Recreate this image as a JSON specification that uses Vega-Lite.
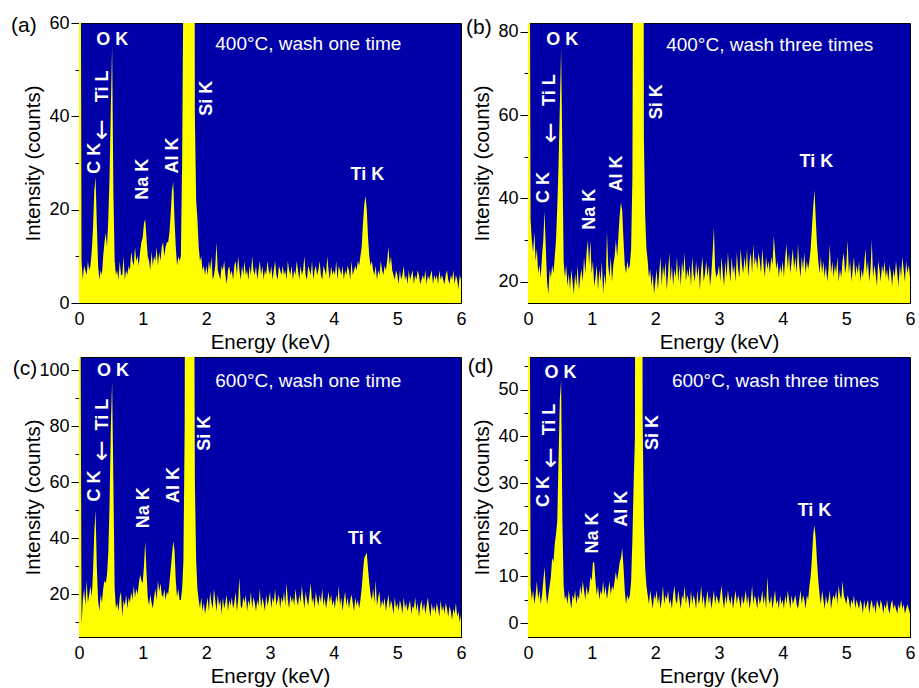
{
"$schema": "https://vega.github.io/schema/vega-lite/v6.json",
"padding": {"left": 10, "top": 13, "right": 5, "bottom": 2},
"config": {
  "font": "Liberation Sans",
  "view": {"stroke": "#000", "strokeWidth": 1, "fill": "#0000a8"},
  "axis": {"grid": false, "domainColor": "#000", "tickColor": "#000", "labelColor": "#000", "titleColor": "#000", "labelFontSize": 18, "titleFontSize": 20.5, "titleFontWeight": "normal", "tickWidth": 1, "domainWidth": 1, "labelOverlap": false, "labelFlush": false}
},
"datasets": {
"a": [
{"E":0,"I":200},{"E":0.02,"I":120},{"E":0.04,"I":9},{"E":0.06,"I":5},{"E":0.08,"I":8},{"E":0.1,"I":7},{"E":0.12,"I":6},{"E":0.14,"I":9},{"E":0.16,"I":7},{"E":0.18,"I":8},
{"E":0.2,"I":11},{"E":0.22,"I":16},{"E":0.24,"I":24},{"E":0.26,"I":27},{"E":0.28,"I":17},{"E":0.3,"I":8},{"E":0.32,"I":5},{"E":0.34,"I":7},{"E":0.36,"I":6},{"E":0.38,"I":10},
{"E":0.4,"I":13},{"E":0.42,"I":15},{"E":0.44,"I":12},{"E":0.46,"I":18},{"E":0.48,"I":27},{"E":0.5,"I":42},{"E":0.52,"I":55},{"E":0.54,"I":24},{"E":0.56,"I":9},{"E":0.58,"I":6},
{"E":0.6,"I":7},{"E":0.62,"I":5},{"E":0.64,"I":9},{"E":0.66,"I":6},{"E":0.68,"I":6},{"E":0.7,"I":10},{"E":0.72,"I":5},{"E":0.74,"I":7},{"E":0.76,"I":6},{"E":0.78,"I":8},
{"E":0.8,"I":7},{"E":0.82,"I":11},{"E":0.84,"I":9},{"E":0.86,"I":8},{"E":0.88,"I":12},{"E":0.9,"I":9},{"E":0.92,"I":10},{"E":0.94,"I":8},{"E":0.96,"I":11},{"E":0.98,"I":13},
{"E":1,"I":14},{"E":1.02,"I":17},{"E":1.04,"I":18},{"E":1.06,"I":14},{"E":1.08,"I":10},{"E":1.1,"I":9},{"E":1.12,"I":7},{"E":1.14,"I":11},{"E":1.16,"I":8},{"E":1.18,"I":10},
{"E":1.2,"I":9},{"E":1.22,"I":12},{"E":1.24,"I":8},{"E":1.26,"I":11},{"E":1.28,"I":9},{"E":1.3,"I":12},{"E":1.32,"I":13},{"E":1.34,"I":10},{"E":1.36,"I":12},{"E":1.38,"I":13},
{"E":1.4,"I":13},{"E":1.42,"I":15},{"E":1.44,"I":19},{"E":1.46,"I":24},{"E":1.48,"I":26},{"E":1.5,"I":18},{"E":1.52,"I":12},{"E":1.54,"I":8},{"E":1.56,"I":10},{"E":1.58,"I":9},
{"E":1.6,"I":10},{"E":1.62,"I":30},{"E":1.64,"I":70},{"E":1.66,"I":300},{"E":1.68,"I":300},{"E":1.7,"I":300},{"E":1.72,"I":300},{"E":1.74,"I":300},{"E":1.76,"I":300},{"E":1.78,"I":300},
{"E":1.8,"I":200},{"E":1.82,"I":40},{"E":1.84,"I":22},{"E":1.86,"I":18},{"E":1.88,"I":12},{"E":1.9,"I":9},{"E":1.92,"I":10},{"E":1.94,"I":7},{"E":1.96,"I":8},{"E":1.98,"I":6},
{"E":2,"I":8},{"E":2.02,"I":6},{"E":2.04,"I":9},{"E":2.06,"I":7},{"E":2.08,"I":10},{"E":2.1,"I":5},{"E":2.12,"I":6},{"E":2.14,"I":8},{"E":2.16,"I":13},{"E":2.18,"I":7},
{"E":2.2,"I":6},{"E":2.22,"I":5},{"E":2.24,"I":8},{"E":2.26,"I":7},{"E":2.28,"I":9},{"E":2.3,"I":6},{"E":2.32,"I":4},{"E":2.34,"I":7},{"E":2.36,"I":8},{"E":2.38,"I":6},
{"E":2.4,"I":7},{"E":2.42,"I":5},{"E":2.44,"I":8},{"E":2.46,"I":9},{"E":2.48,"I":6},{"E":2.5,"I":10},{"E":2.52,"I":7},{"E":2.54,"I":5},{"E":2.56,"I":8},{"E":2.58,"I":6},
{"E":2.6,"I":9},{"E":2.62,"I":6},{"E":2.64,"I":7},{"E":2.66,"I":5},{"E":2.68,"I":8},{"E":2.7,"I":6},{"E":2.72,"I":10},{"E":2.74,"I":7},{"E":2.76,"I":6},{"E":2.78,"I":8},
{"E":2.8,"I":5},{"E":2.82,"I":7},{"E":2.84,"I":9},{"E":2.86,"I":6},{"E":2.88,"I":8},{"E":2.9,"I":5},{"E":2.92,"I":7},{"E":2.94,"I":6},{"E":2.96,"I":9},{"E":2.98,"I":7},
{"E":3,"I":6},{"E":3.02,"I":8},{"E":3.04,"I":5},{"E":3.06,"I":7},{"E":3.08,"I":9},{"E":3.1,"I":6},{"E":3.12,"I":5},{"E":3.14,"I":8},{"E":3.16,"I":7},{"E":3.18,"I":6},
{"E":3.2,"I":8},{"E":3.22,"I":6},{"E":3.24,"I":7},{"E":3.26,"I":5},{"E":3.28,"I":9},{"E":3.3,"I":7},{"E":3.32,"I":6},{"E":3.34,"I":8},{"E":3.36,"I":5},{"E":3.38,"I":7},
{"E":3.4,"I":6},{"E":3.42,"I":9},{"E":3.44,"I":7},{"E":3.46,"I":5},{"E":3.48,"I":8},{"E":3.5,"I":6},{"E":3.52,"I":7},{"E":3.54,"I":10},{"E":3.56,"I":6},{"E":3.58,"I":5},
{"E":3.6,"I":8},{"E":3.62,"I":7},{"E":3.64,"I":6},{"E":3.66,"I":9},{"E":3.68,"I":5},{"E":3.7,"I":7},{"E":3.72,"I":8},{"E":3.74,"I":6},{"E":3.76,"I":7},{"E":3.78,"I":9},
{"E":3.8,"I":6},{"E":3.82,"I":5},{"E":3.84,"I":8},{"E":3.86,"I":7},{"E":3.88,"I":6},{"E":3.9,"I":10},{"E":3.92,"I":7},{"E":3.94,"I":5},{"E":3.96,"I":8},{"E":3.98,"I":6},
{"E":4,"I":7},{"E":4.02,"I":6},{"E":4.04,"I":9},{"E":4.06,"I":5},{"E":4.08,"I":8},{"E":4.1,"I":7},{"E":4.12,"I":6},{"E":4.14,"I":8},{"E":4.16,"I":5},{"E":4.18,"I":7},
{"E":4.2,"I":6},{"E":4.22,"I":8},{"E":4.24,"I":7},{"E":4.26,"I":5},{"E":4.28,"I":9},{"E":4.3,"I":6},{"E":4.32,"I":7},{"E":4.34,"I":8},{"E":4.36,"I":7},{"E":4.38,"I":9},
{"E":4.4,"I":8},{"E":4.42,"I":10},{"E":4.44,"I":12},{"E":4.46,"I":17},{"E":4.48,"I":21},{"E":4.5,"I":23},{"E":4.52,"I":20},{"E":4.54,"I":14},{"E":4.56,"I":10},{"E":4.58,"I":8},
{"E":4.6,"I":9},{"E":4.62,"I":7},{"E":4.64,"I":6},{"E":4.66,"I":8},{"E":4.68,"I":5},{"E":4.7,"I":7},{"E":4.72,"I":6},{"E":4.74,"I":9},{"E":4.76,"I":7},{"E":4.78,"I":6},
{"E":4.8,"I":8},{"E":4.82,"I":7},{"E":4.84,"I":9},{"E":4.86,"I":12},{"E":4.88,"I":8},{"E":4.9,"I":10},{"E":4.92,"I":7},{"E":4.94,"I":6},{"E":4.96,"I":5},{"E":4.98,"I":7},
{"E":5,"I":6},{"E":5.02,"I":4},{"E":5.04,"I":7},{"E":5.06,"I":5},{"E":5.08,"I":6},{"E":5.1,"I":8},{"E":5.12,"I":5},{"E":5.14,"I":6},{"E":5.16,"I":4},{"E":5.18,"I":7},
{"E":5.2,"I":5},{"E":5.22,"I":6},{"E":5.24,"I":7},{"E":5.26,"I":4},{"E":5.28,"I":6},{"E":5.3,"I":5},{"E":5.32,"I":7},{"E":5.34,"I":6},{"E":5.36,"I":4},{"E":5.38,"I":5},
{"E":5.4,"I":6},{"E":5.42,"I":5},{"E":5.44,"I":7},{"E":5.46,"I":4},{"E":5.48,"I":6},{"E":5.5,"I":5},{"E":5.52,"I":6},{"E":5.54,"I":7},{"E":5.56,"I":4},{"E":5.58,"I":6},
{"E":5.6,"I":5},{"E":5.62,"I":6},{"E":5.64,"I":4},{"E":5.66,"I":7},{"E":5.68,"I":5},{"E":5.7,"I":6},{"E":5.72,"I":5},{"E":5.74,"I":4},{"E":5.76,"I":6},{"E":5.78,"I":7},
{"E":5.8,"I":5},{"E":5.82,"I":4},{"E":5.84,"I":6},{"E":5.86,"I":5},{"E":5.88,"I":7},{"E":5.9,"I":4},{"E":5.92,"I":6},{"E":5.94,"I":5},{"E":5.96,"I":3},{"E":5.98,"I":6},
{"E":6,"I":5}
],
"b": [
{"E":0,"I":200},{"E":0.02,"I":150},{"E":0.04,"I":35},{"E":0.06,"I":30},{"E":0.08,"I":27},{"E":0.1,"I":32},{"E":0.12,"I":25},{"E":0.14,"I":28},{"E":0.16,"I":22},{"E":0.18,"I":24},
{"E":0.2,"I":21},{"E":0.22,"I":26},{"E":0.24,"I":30},{"E":0.26,"I":37},{"E":0.28,"I":28},{"E":0.3,"I":20},{"E":0.32,"I":17},{"E":0.34,"I":23},{"E":0.36,"I":21},{"E":0.38,"I":24},
{"E":0.4,"I":22},{"E":0.42,"I":26},{"E":0.44,"I":30},{"E":0.46,"I":38},{"E":0.48,"I":48},{"E":0.5,"I":62},{"E":0.52,"I":76},{"E":0.54,"I":50},{"E":0.56,"I":25},{"E":0.58,"I":21},
{"E":0.6,"I":24},{"E":0.62,"I":19},{"E":0.64,"I":22},{"E":0.66,"I":18},{"E":0.68,"I":23},{"E":0.7,"I":20},{"E":0.72,"I":17},{"E":0.74,"I":22},{"E":0.76,"I":19},{"E":0.78,"I":24},
{"E":0.8,"I":18},{"E":0.82,"I":21},{"E":0.84,"I":23},{"E":0.86,"I":20},{"E":0.88,"I":26},{"E":0.9,"I":22},{"E":0.92,"I":27},{"E":0.94,"I":30},{"E":0.96,"I":24},{"E":0.98,"I":30},
{"E":1,"I":22},{"E":1.02,"I":25},{"E":1.04,"I":19},{"E":1.06,"I":21},{"E":1.08,"I":24},{"E":1.1,"I":18},{"E":1.12,"I":23},{"E":1.14,"I":20},{"E":1.16,"I":25},{"E":1.18,"I":17},
{"E":1.2,"I":22},{"E":1.22,"I":19},{"E":1.24,"I":32},{"E":1.26,"I":24},{"E":1.28,"I":21},{"E":1.3,"I":26},{"E":1.32,"I":20},{"E":1.34,"I":24},{"E":1.36,"I":26},{"E":1.38,"I":30},
{"E":1.4,"I":26},{"E":1.42,"I":31},{"E":1.44,"I":36},{"E":1.46,"I":39},{"E":1.48,"I":37},{"E":1.5,"I":30},{"E":1.52,"I":24},{"E":1.54,"I":22},{"E":1.56,"I":25},{"E":1.58,"I":23},
{"E":1.6,"I":24},{"E":1.62,"I":28},{"E":1.64,"I":45},{"E":1.66,"I":150},{"E":1.68,"I":300},{"E":1.7,"I":300},{"E":1.72,"I":300},{"E":1.74,"I":300},{"E":1.76,"I":300},{"E":1.78,"I":300},
{"E":1.8,"I":300},{"E":1.82,"I":55},{"E":1.84,"I":36},{"E":1.86,"I":28},{"E":1.88,"I":25},{"E":1.9,"I":21},{"E":1.92,"I":23},{"E":1.94,"I":19},{"E":1.96,"I":22},{"E":1.98,"I":17},
{"E":2,"I":20},{"E":2.02,"I":23},{"E":2.04,"I":18},{"E":2.06,"I":22},{"E":2.08,"I":26},{"E":2.1,"I":19},{"E":2.12,"I":24},{"E":2.14,"I":21},{"E":2.16,"I":25},{"E":2.18,"I":18},
{"E":2.2,"I":22},{"E":2.22,"I":27},{"E":2.24,"I":20},{"E":2.26,"I":24},{"E":2.28,"I":19},{"E":2.3,"I":23},{"E":2.32,"I":21},{"E":2.34,"I":26},{"E":2.36,"I":20},{"E":2.38,"I":24},
{"E":2.4,"I":19},{"E":2.42,"I":25},{"E":2.44,"I":22},{"E":2.46,"I":27},{"E":2.48,"I":20},{"E":2.5,"I":23},{"E":2.52,"I":21},{"E":2.54,"I":24},{"E":2.56,"I":19},{"E":2.58,"I":26},
{"E":2.6,"I":22},{"E":2.62,"I":20},{"E":2.64,"I":25},{"E":2.66,"I":21},{"E":2.68,"I":24},{"E":2.7,"I":18},{"E":2.72,"I":23},{"E":2.74,"I":26},{"E":2.76,"I":20},{"E":2.78,"I":22},
{"E":2.8,"I":25},{"E":2.82,"I":21},{"E":2.84,"I":24},{"E":2.86,"I":19},{"E":2.88,"I":22},{"E":2.9,"I":27},{"E":2.92,"I":33},{"E":2.94,"I":23},{"E":2.96,"I":21},{"E":2.98,"I":22},
{"E":3,"I":24},{"E":3.02,"I":20},{"E":3.04,"I":26},{"E":3.06,"I":22},{"E":3.08,"I":19},{"E":3.1,"I":25},{"E":3.12,"I":21},{"E":3.14,"I":27},{"E":3.16,"I":23},{"E":3.18,"I":20},
{"E":3.2,"I":26},{"E":3.22,"I":22},{"E":3.24,"I":24},{"E":3.26,"I":20},{"E":3.28,"I":27},{"E":3.3,"I":23},{"E":3.32,"I":21},{"E":3.34,"I":28},{"E":3.36,"I":24},{"E":3.38,"I":22},
{"E":3.4,"I":26},{"E":3.42,"I":23},{"E":3.44,"I":28},{"E":3.46,"I":21},{"E":3.48,"I":25},{"E":3.5,"I":27},{"E":3.52,"I":22},{"E":3.54,"I":29},{"E":3.56,"I":24},{"E":3.58,"I":26},
{"E":3.6,"I":23},{"E":3.62,"I":27},{"E":3.64,"I":25},{"E":3.66,"I":22},{"E":3.68,"I":28},{"E":3.7,"I":24},{"E":3.72,"I":21},{"E":3.74,"I":26},{"E":3.76,"I":23},{"E":3.78,"I":25},
{"E":3.8,"I":22},{"E":3.82,"I":26},{"E":3.84,"I":24},{"E":3.86,"I":31},{"E":3.88,"I":27},{"E":3.9,"I":23},{"E":3.92,"I":25},{"E":3.94,"I":21},{"E":3.96,"I":24},{"E":3.98,"I":22},
{"E":4,"I":25},{"E":4.02,"I":21},{"E":4.04,"I":26},{"E":4.06,"I":29},{"E":4.08,"I":23},{"E":4.1,"I":27},{"E":4.12,"I":22},{"E":4.14,"I":25},{"E":4.16,"I":28},{"E":4.18,"I":23},
{"E":4.2,"I":26},{"E":4.22,"I":22},{"E":4.24,"I":29},{"E":4.26,"I":24},{"E":4.28,"I":21},{"E":4.3,"I":26},{"E":4.32,"I":23},{"E":4.34,"I":27},{"E":4.36,"I":22},{"E":4.38,"I":25},
{"E":4.4,"I":23},{"E":4.42,"I":25},{"E":4.44,"I":28},{"E":4.46,"I":33},{"E":4.48,"I":38},{"E":4.5,"I":42},{"E":4.52,"I":35},{"E":4.54,"I":29},{"E":4.56,"I":25},{"E":4.58,"I":22},
{"E":4.6,"I":26},{"E":4.62,"I":22},{"E":4.64,"I":25},{"E":4.66,"I":21},{"E":4.68,"I":24},{"E":4.7,"I":20},{"E":4.72,"I":23},{"E":4.74,"I":29},{"E":4.76,"I":22},{"E":4.78,"I":25},
{"E":4.8,"I":21},{"E":4.82,"I":24},{"E":4.84,"I":22},{"E":4.86,"I":26},{"E":4.88,"I":20},{"E":4.9,"I":23},{"E":4.92,"I":21},{"E":4.94,"I":25},{"E":4.96,"I":27},{"E":4.98,"I":22},
{"E":5,"I":24},{"E":5.02,"I":30},{"E":5.04,"I":22},{"E":5.06,"I":25},{"E":5.08,"I":20},{"E":5.1,"I":23},{"E":5.12,"I":26},{"E":5.14,"I":21},{"E":5.16,"I":24},{"E":5.18,"I":22},
{"E":5.2,"I":25},{"E":5.22,"I":20},{"E":5.24,"I":23},{"E":5.26,"I":21},{"E":5.28,"I":24},{"E":5.3,"I":28},{"E":5.32,"I":22},{"E":5.34,"I":25},{"E":5.36,"I":20},{"E":5.38,"I":23},
{"E":5.4,"I":30},{"E":5.42,"I":21},{"E":5.44,"I":24},{"E":5.46,"I":22},{"E":5.48,"I":19},{"E":5.5,"I":25},{"E":5.52,"I":23},{"E":5.54,"I":20},{"E":5.56,"I":24},{"E":5.58,"I":22},
{"E":5.6,"I":25},{"E":5.62,"I":21},{"E":5.64,"I":23},{"E":5.66,"I":20},{"E":5.68,"I":24},{"E":5.7,"I":22},{"E":5.72,"I":19},{"E":5.74,"I":23},{"E":5.76,"I":21},{"E":5.78,"I":25},
{"E":5.8,"I":22},{"E":5.82,"I":19},{"E":5.84,"I":24},{"E":5.86,"I":21},{"E":5.88,"I":26},{"E":5.9,"I":23},{"E":5.92,"I":20},{"E":5.94,"I":25},{"E":5.96,"I":22},{"E":5.98,"I":24},
{"E":6,"I":21}
],
"c": [
{"E":0,"I":250},{"E":0.02,"I":150},{"E":0.04,"I":9},{"E":0.06,"I":18},{"E":0.08,"I":22},{"E":0.1,"I":16},{"E":0.12,"I":25},{"E":0.14,"I":17},{"E":0.16,"I":20},{"E":0.18,"I":23},
{"E":0.2,"I":19},{"E":0.22,"I":28},{"E":0.24,"I":42},{"E":0.26,"I":50},{"E":0.28,"I":30},{"E":0.3,"I":18},{"E":0.32,"I":14},{"E":0.34,"I":20},{"E":0.36,"I":17},{"E":0.38,"I":22},
{"E":0.4,"I":25},{"E":0.42,"I":24},{"E":0.44,"I":27},{"E":0.46,"I":35},{"E":0.48,"I":52},{"E":0.5,"I":80},{"E":0.52,"I":96},{"E":0.54,"I":60},{"E":0.56,"I":22},{"E":0.58,"I":15},
{"E":0.6,"I":17},{"E":0.62,"I":14},{"E":0.64,"I":19},{"E":0.66,"I":21},{"E":0.68,"I":12},{"E":0.7,"I":18},{"E":0.72,"I":16},{"E":0.74,"I":20},{"E":0.76,"I":15},{"E":0.78,"I":19},
{"E":0.8,"I":17},{"E":0.82,"I":21},{"E":0.84,"I":18},{"E":0.86,"I":23},{"E":0.88,"I":19},{"E":0.9,"I":22},{"E":0.92,"I":20},{"E":0.94,"I":24},{"E":0.96,"I":27},{"E":0.98,"I":25},
{"E":1,"I":24},{"E":1.02,"I":30},{"E":1.04,"I":39},{"E":1.06,"I":28},{"E":1.08,"I":19},{"E":1.1,"I":16},{"E":1.12,"I":20},{"E":1.14,"I":17},{"E":1.16,"I":15},{"E":1.18,"I":19},
{"E":1.2,"I":22},{"E":1.22,"I":18},{"E":1.24,"I":25},{"E":1.26,"I":21},{"E":1.28,"I":24},{"E":1.3,"I":20},{"E":1.32,"I":19},{"E":1.34,"I":22},{"E":1.36,"I":18},{"E":1.38,"I":21},
{"E":1.4,"I":20},{"E":1.42,"I":24},{"E":1.44,"I":29},{"E":1.46,"I":34},{"E":1.48,"I":39},{"E":1.5,"I":36},{"E":1.52,"I":25},{"E":1.54,"I":19},{"E":1.56,"I":22},{"E":1.58,"I":18},
{"E":1.6,"I":18},{"E":1.62,"I":22},{"E":1.64,"I":32},{"E":1.66,"I":80},{"E":1.68,"I":300},{"E":1.7,"I":300},{"E":1.72,"I":300},{"E":1.74,"I":300},{"E":1.76,"I":300},{"E":1.78,"I":300},
{"E":1.8,"I":200},{"E":1.82,"I":60},{"E":1.84,"I":32},{"E":1.86,"I":22},{"E":1.88,"I":18},{"E":1.9,"I":15},{"E":1.92,"I":19},{"E":1.94,"I":14},{"E":1.96,"I":17},{"E":1.98,"I":13},
{"E":2,"I":16},{"E":2.02,"I":19},{"E":2.04,"I":14},{"E":2.06,"I":21},{"E":2.08,"I":17},{"E":2.1,"I":15},{"E":2.12,"I":22},{"E":2.14,"I":18},{"E":2.16,"I":14},{"E":2.18,"I":20},
{"E":2.2,"I":16},{"E":2.22,"I":18},{"E":2.24,"I":13},{"E":2.26,"I":19},{"E":2.28,"I":15},{"E":2.3,"I":17},{"E":2.32,"I":20},{"E":2.34,"I":14},{"E":2.36,"I":18},{"E":2.38,"I":16},
{"E":2.4,"I":19},{"E":2.42,"I":15},{"E":2.44,"I":17},{"E":2.46,"I":21},{"E":2.48,"I":14},{"E":2.5,"I":18},{"E":2.52,"I":26},{"E":2.54,"I":16},{"E":2.56,"I":15},{"E":2.58,"I":19},
{"E":2.6,"I":17},{"E":2.62,"I":20},{"E":2.64,"I":14},{"E":2.66,"I":18},{"E":2.68,"I":16},{"E":2.7,"I":21},{"E":2.72,"I":15},{"E":2.74,"I":19},{"E":2.76,"I":17},{"E":2.78,"I":14},
{"E":2.8,"I":18},{"E":2.82,"I":16},{"E":2.84,"I":22},{"E":2.86,"I":15},{"E":2.88,"I":19},{"E":2.9,"I":17},{"E":2.92,"I":14},{"E":2.94,"I":20},{"E":2.96,"I":16},{"E":2.98,"I":18},
{"E":3,"I":21},{"E":3.02,"I":15},{"E":3.04,"I":19},{"E":3.06,"I":17},{"E":3.08,"I":22},{"E":3.1,"I":16},{"E":3.12,"I":18},{"E":3.14,"I":20},{"E":3.16,"I":15},{"E":3.18,"I":19},
{"E":3.2,"I":17},{"E":3.22,"I":21},{"E":3.24,"I":16},{"E":3.26,"I":24},{"E":3.28,"I":18},{"E":3.3,"I":15},{"E":3.32,"I":20},{"E":3.34,"I":17},{"E":3.36,"I":19},{"E":3.38,"I":16},
{"E":3.4,"I":22},{"E":3.42,"I":18},{"E":3.44,"I":16},{"E":3.46,"I":20},{"E":3.48,"I":17},{"E":3.5,"I":23},{"E":3.52,"I":19},{"E":3.54,"I":15},{"E":3.56,"I":21},{"E":3.58,"I":18},
{"E":3.6,"I":16},{"E":3.62,"I":20},{"E":3.64,"I":24},{"E":3.66,"I":17},{"E":3.68,"I":19},{"E":3.7,"I":15},{"E":3.72,"I":21},{"E":3.74,"I":18},{"E":3.76,"I":16},{"E":3.78,"I":20},
{"E":3.8,"I":17},{"E":3.82,"I":22},{"E":3.84,"I":16},{"E":3.86,"I":19},{"E":3.88,"I":15},{"E":3.9,"I":18},{"E":3.92,"I":21},{"E":3.94,"I":17},{"E":3.96,"I":20},{"E":3.98,"I":16},
{"E":4,"I":18},{"E":4.02,"I":15},{"E":4.04,"I":20},{"E":4.06,"I":17},{"E":4.08,"I":23},{"E":4.1,"I":16},{"E":4.12,"I":19},{"E":4.14,"I":14},{"E":4.16,"I":18},{"E":4.18,"I":21},
{"E":4.2,"I":16},{"E":4.22,"I":19},{"E":4.24,"I":15},{"E":4.26,"I":18},{"E":4.28,"I":20},{"E":4.3,"I":17},{"E":4.32,"I":14},{"E":4.34,"I":19},{"E":4.36,"I":16},{"E":4.38,"I":18},
{"E":4.4,"I":15},{"E":4.42,"I":18},{"E":4.44,"I":22},{"E":4.46,"I":28},{"E":4.48,"I":33},{"E":4.5,"I":34},{"E":4.52,"I":35},{"E":4.54,"I":29},{"E":4.56,"I":24},{"E":4.58,"I":20},
{"E":4.6,"I":18},{"E":4.62,"I":22},{"E":4.64,"I":17},{"E":4.66,"I":25},{"E":4.68,"I":16},{"E":4.7,"I":19},{"E":4.72,"I":21},{"E":4.74,"I":15},{"E":4.76,"I":18},{"E":4.78,"I":16},
{"E":4.8,"I":19},{"E":4.82,"I":14},{"E":4.84,"I":17},{"E":4.86,"I":20},{"E":4.88,"I":15},{"E":4.9,"I":18},{"E":4.92,"I":16},{"E":4.94,"I":13},{"E":4.96,"I":19},{"E":4.98,"I":15},
{"E":5,"I":17},{"E":5.02,"I":14},{"E":5.04,"I":18},{"E":5.06,"I":16},{"E":5.08,"I":13},{"E":5.1,"I":19},{"E":5.12,"I":15},{"E":5.14,"I":17},{"E":5.16,"I":14},{"E":5.18,"I":16},
{"E":5.2,"I":18},{"E":5.22,"I":13},{"E":5.24,"I":16},{"E":5.26,"I":15},{"E":5.28,"I":19},{"E":5.3,"I":14},{"E":5.32,"I":17},{"E":5.34,"I":12},{"E":5.36,"I":16},{"E":5.38,"I":18},
{"E":5.4,"I":14},{"E":5.42,"I":17},{"E":5.44,"I":13},{"E":5.46,"I":16},{"E":5.48,"I":19},{"E":5.5,"I":15},{"E":5.52,"I":12},{"E":5.54,"I":17},{"E":5.56,"I":14},{"E":5.58,"I":16},
{"E":5.6,"I":13},{"E":5.62,"I":17},{"E":5.64,"I":15},{"E":5.66,"I":12},{"E":5.68,"I":18},{"E":5.7,"I":14},{"E":5.72,"I":16},{"E":5.74,"I":13},{"E":5.76,"I":17},{"E":5.78,"I":15},
{"E":5.8,"I":12},{"E":5.82,"I":16},{"E":5.84,"I":14},{"E":5.86,"I":11},{"E":5.88,"I":15},{"E":5.9,"I":13},{"E":5.92,"I":17},{"E":5.94,"I":12},{"E":5.96,"I":14},{"E":5.98,"I":10},
{"E":6,"I":13}
],
"d": [
{"E":0,"I":200},{"E":0.02,"I":120},{"E":0.04,"I":8},{"E":0.06,"I":5},{"E":0.08,"I":7},{"E":0.1,"I":4},{"E":0.12,"I":6},{"E":0.14,"I":9},{"E":0.16,"I":5},{"E":0.18,"I":7},
{"E":0.2,"I":4},{"E":0.22,"I":6},{"E":0.24,"I":9},{"E":0.26,"I":12},{"E":0.28,"I":7},{"E":0.3,"I":4},{"E":0.32,"I":6},{"E":0.34,"I":8},{"E":0.36,"I":10},{"E":0.38,"I":14},
{"E":0.4,"I":13},{"E":0.42,"I":17},{"E":0.44,"I":19},{"E":0.46,"I":22},{"E":0.48,"I":35},{"E":0.5,"I":48},{"E":0.52,"I":52},{"E":0.54,"I":22},{"E":0.56,"I":8},{"E":0.58,"I":5},
{"E":0.6,"I":6},{"E":0.62,"I":4},{"E":0.64,"I":7},{"E":0.66,"I":5},{"E":0.68,"I":3},{"E":0.7,"I":6},{"E":0.72,"I":5},{"E":0.74,"I":7},{"E":0.76,"I":4},{"E":0.78,"I":6},
{"E":0.8,"I":5},{"E":0.82,"I":8},{"E":0.84,"I":6},{"E":0.86,"I":9},{"E":0.88,"I":7},{"E":0.9,"I":5},{"E":0.92,"I":8},{"E":0.94,"I":6},{"E":0.96,"I":7},{"E":0.98,"I":10},
{"E":1,"I":9},{"E":1.02,"I":13},{"E":1.04,"I":13},{"E":1.06,"I":9},{"E":1.08,"I":6},{"E":1.1,"I":8},{"E":1.12,"I":5},{"E":1.14,"I":7},{"E":1.16,"I":6},{"E":1.18,"I":9},
{"E":1.2,"I":6},{"E":1.22,"I":8},{"E":1.24,"I":5},{"E":1.26,"I":7},{"E":1.28,"I":9},{"E":1.3,"I":6},{"E":1.32,"I":8},{"E":1.34,"I":7},{"E":1.36,"I":9},{"E":1.38,"I":11},
{"E":1.4,"I":9},{"E":1.42,"I":11},{"E":1.44,"I":13},{"E":1.46,"I":14},{"E":1.48,"I":16},{"E":1.5,"I":12},{"E":1.52,"I":7},{"E":1.54,"I":4},{"E":1.56,"I":6},{"E":1.58,"I":5},
{"E":1.6,"I":6},{"E":1.62,"I":9},{"E":1.64,"I":18},{"E":1.66,"I":30},{"E":1.68,"I":40},{"E":1.7,"I":300},{"E":1.72,"I":300},{"E":1.74,"I":300},{"E":1.76,"I":300},{"E":1.78,"I":300},
{"E":1.8,"I":45},{"E":1.82,"I":22},{"E":1.84,"I":12},{"E":1.86,"I":8},{"E":1.88,"I":6},{"E":1.9,"I":4},{"E":1.92,"I":7},{"E":1.94,"I":5},{"E":1.96,"I":3},{"E":1.98,"I":6},
{"E":2,"I":5},{"E":2.02,"I":7},{"E":2.04,"I":4},{"E":2.06,"I":6},{"E":2.08,"I":3},{"E":2.1,"I":5},{"E":2.12,"I":8},{"E":2.14,"I":4},{"E":2.16,"I":6},{"E":2.18,"I":5},
{"E":2.2,"I":7},{"E":2.22,"I":4},{"E":2.24,"I":5},{"E":2.26,"I":3},{"E":2.28,"I":6},{"E":2.3,"I":8},{"E":2.32,"I":5},{"E":2.34,"I":4},{"E":2.36,"I":7},{"E":2.38,"I":5},
{"E":2.4,"I":3},{"E":2.42,"I":6},{"E":2.44,"I":5},{"E":2.46,"I":8},{"E":2.48,"I":4},{"E":2.5,"I":6},{"E":2.52,"I":5},{"E":2.54,"I":3},{"E":2.56,"I":7},{"E":2.58,"I":4},
{"E":2.6,"I":6},{"E":2.62,"I":5},{"E":2.64,"I":3},{"E":2.66,"I":7},{"E":2.68,"I":4},{"E":2.7,"I":5},{"E":2.72,"I":8},{"E":2.74,"I":4},{"E":2.76,"I":6},{"E":2.78,"I":3},
{"E":2.8,"I":5},{"E":2.82,"I":7},{"E":2.84,"I":4},{"E":2.86,"I":6},{"E":2.88,"I":3},{"E":2.9,"I":5},{"E":2.92,"I":7},{"E":2.94,"I":4},{"E":2.96,"I":6},{"E":2.98,"I":5},
{"E":3,"I":4},{"E":3.02,"I":6},{"E":3.04,"I":8},{"E":3.06,"I":5},{"E":3.08,"I":3},{"E":3.1,"I":6},{"E":3.12,"I":4},{"E":3.14,"I":7},{"E":3.16,"I":5},{"E":3.18,"I":4},
{"E":3.2,"I":6},{"E":3.22,"I":3},{"E":3.24,"I":5},{"E":3.26,"I":7},{"E":3.28,"I":4},{"E":3.3,"I":6},{"E":3.32,"I":5},{"E":3.34,"I":3},{"E":3.36,"I":6},{"E":3.38,"I":4},
{"E":3.4,"I":5},{"E":3.42,"I":7},{"E":3.44,"I":4},{"E":3.46,"I":6},{"E":3.48,"I":3},{"E":3.5,"I":5},{"E":3.52,"I":8},{"E":3.54,"I":4},{"E":3.56,"I":6},{"E":3.58,"I":5},
{"E":3.6,"I":3},{"E":3.62,"I":6},{"E":3.64,"I":4},{"E":3.66,"I":5},{"E":3.68,"I":7},{"E":3.7,"I":4},{"E":3.72,"I":6},{"E":3.74,"I":3},{"E":3.76,"I":10},{"E":3.78,"I":5},
{"E":3.8,"I":4},{"E":3.82,"I":6},{"E":3.84,"I":3},{"E":3.86,"I":5},{"E":3.88,"I":7},{"E":3.9,"I":4},{"E":3.92,"I":5},{"E":3.94,"I":3},{"E":3.96,"I":6},{"E":3.98,"I":4},
{"E":4,"I":5},{"E":4.02,"I":3},{"E":4.04,"I":6},{"E":4.06,"I":4},{"E":4.08,"I":7},{"E":4.1,"I":5},{"E":4.12,"I":3},{"E":4.14,"I":6},{"E":4.16,"I":4},{"E":4.18,"I":5},
{"E":4.2,"I":6},{"E":4.22,"I":4},{"E":4.24,"I":3},{"E":4.26,"I":5},{"E":4.28,"I":7},{"E":4.3,"I":4},{"E":4.32,"I":6},{"E":4.34,"I":5},{"E":4.36,"I":3},{"E":4.38,"I":6},
{"E":4.4,"I":5},{"E":4.42,"I":8},{"E":4.44,"I":10},{"E":4.46,"I":14},{"E":4.48,"I":19},{"E":4.5,"I":21},{"E":4.52,"I":18},{"E":4.54,"I":13},{"E":4.56,"I":9},{"E":4.58,"I":6},
{"E":4.6,"I":4},{"E":4.62,"I":7},{"E":4.64,"I":5},{"E":4.66,"I":3},{"E":4.68,"I":6},{"E":4.7,"I":4},{"E":4.72,"I":5},{"E":4.74,"I":7},{"E":4.76,"I":3},{"E":4.78,"I":5},
{"E":4.8,"I":6},{"E":4.82,"I":5},{"E":4.84,"I":7},{"E":4.86,"I":4},{"E":4.88,"I":8},{"E":4.9,"I":6},{"E":4.92,"I":5},{"E":4.94,"I":9},{"E":4.96,"I":6},{"E":4.98,"I":5},
{"E":5,"I":4},{"E":5.02,"I":6},{"E":5.04,"I":5},{"E":5.06,"I":3},{"E":5.08,"I":5},{"E":5.1,"I":4},{"E":5.12,"I":6},{"E":5.14,"I":3},{"E":5.16,"I":5},{"E":5.18,"I":4},
{"E":5.2,"I":3},{"E":5.22,"I":5},{"E":5.24,"I":4},{"E":5.26,"I":2},{"E":5.28,"I":5},{"E":5.3,"I":3},{"E":5.32,"I":4},{"E":5.34,"I":5},{"E":5.36,"I":2},{"E":5.38,"I":4},
{"E":5.4,"I":5},{"E":5.42,"I":3},{"E":5.44,"I":4},{"E":5.46,"I":2},{"E":5.48,"I":5},{"E":5.5,"I":4},{"E":5.52,"I":3},{"E":5.54,"I":5},{"E":5.56,"I":4},{"E":5.58,"I":2},
{"E":5.6,"I":4},{"E":5.62,"I":3},{"E":5.64,"I":5},{"E":5.66,"I":3},{"E":5.68,"I":2},{"E":5.7,"I":4},{"E":5.72,"I":5},{"E":5.74,"I":3},{"E":5.76,"I":4},{"E":5.78,"I":3},
{"E":5.8,"I":2},{"E":5.82,"I":4},{"E":5.84,"I":3},{"E":5.86,"I":5},{"E":5.88,"I":3},{"E":5.9,"I":4},{"E":5.92,"I":2},{"E":5.94,"I":3},{"E":5.96,"I":4},{"E":5.98,"I":3},
{"E":6,"I":2}
],
"labels": [
{"panel":"a","E":0.523,"I":56.4,"text":"O K","A":0},
{"panel":"a","E":0.372,"I":46.4,"text":"Ti L","A":270},
{"panel":"a","E":0.256,"I":31.0,"text":"C K","A":270},
{"panel":"a","E":1.0,"I":26.5,"text":"Na K","A":270},
{"panel":"a","E":1.47,"I":31.6,"text":"Al K","A":270},
{"panel":"a","E":2.005,"I":43.9,"text":"Si K","A":270},
{"panel":"a","E":4.53,"I":27.4,"text":"Ti K","A":0},
{"panel":"b","E":0.537,"I":78.0,"text":"O K","A":0},
{"panel":"b","E":0.35,"I":66.0,"text":"Ti L","A":270},
{"panel":"b","E":0.257,"I":42.6,"text":"C K","A":270},
{"panel":"b","E":0.974,"I":37.4,"text":"Na K","A":270},
{"panel":"b","E":1.40,"I":46.0,"text":"Al K","A":270},
{"panel":"b","E":2.02,"I":63.2,"text":"Si K","A":270},
{"panel":"b","E":4.53,"I":48.8,"text":"Ti K","A":0},
{"panel":"c","E":0.534,"I":99.9,"text":"O K","A":0},
{"panel":"c","E":0.372,"I":84.2,"text":"Ti L","A":270},
{"panel":"c","E":0.256,"I":58.7,"text":"C K","A":270},
{"panel":"c","E":1.016,"I":51.0,"text":"Na K","A":270},
{"panel":"c","E":1.487,"I":59.1,"text":"Al K","A":270},
{"panel":"c","E":1.98,"I":77.6,"text":"Si K","A":270},
{"panel":"c","E":4.49,"I":39.9,"text":"Ti K","A":0},
{"panel":"d","E":0.51,"I":53.6,"text":"O K","A":0},
{"panel":"d","E":0.35,"I":43.6,"text":"Ti L","A":270},
{"panel":"d","E":0.246,"I":28.2,"text":"C K","A":270},
{"panel":"d","E":1.016,"I":19.3,"text":"Na K","A":270},
{"panel":"d","E":1.476,"I":24.5,"text":"Al K","A":270},
{"panel":"d","E":1.97,"I":40.8,"text":"Si K","A":270},
{"panel":"d","E":4.50,"I":24.1,"text":"Ti K","A":0}
],
"arrows": [
{"panel":"a","E":0.361,"I":36.9,"text":"↓"},
{"panel":"b","E":0.361,"I":55.4,"text":"↓"},
{"panel":"c","E":0.36,"I":70.7,"text":"↓"},
{"panel":"d","E":0.36,"I":35.2,"text":"↓"}
],
"conds": [
{"panel":"a","E":2.14,"I":55.4,"text":"400°C, wash one time"},
{"panel":"b","E":2.17,"I":76.8,"text":"400°C, wash three times"},
{"panel":"c","E":2.14,"I":96.4,"text":"600°C, wash one time"},
{"panel":"d","E":2.26,"I":51.9,"text":"600°C, wash three times"}
],
"letters": [
{"panel":"a","E":-1.068,"I":58.0,"text":"(a)"},
{"panel":"b","E":-0.974,"I":79.4,"text":"(b)"},
{"panel":"c","E":-1.041,"I":98.5,"text":"(c)"},
{"panel":"d","E":-0.947,"I":53.6,"text":"(d)"}
]
},
"columns": 2,
"spacing": {"row": 54, "column": 67},
"bounds": "flush",
"concat": [
{
 "width": 382, "height": 280,
 "layer": [
  {"data": {"name": "a"}, "mark": {"type": "area", "color": "#ffff00", "clip": true},
   "encoding": {
    "x": {"field": "E", "type": "quantitative", "scale": {"domain": [0, 6], "nice": false, "zero": false},
          "axis": {"title": "Energy (keV)", "values": [0,0.5,1,1.5,2,2.5,3,3.5,4,4.5,5,5.5,6], "tickCount": 100, "labelExpr": "datum.value % 1 === 0 ? format(datum.value, 'd') : ''", "labelOverlap": false, "tickSize": -5, "labelPadding": 12, "titlePadding": 4}},
    "y": {"field": "I", "type": "quantitative", "scale": {"domain": [0, 60], "nice": false, "zero": false},
          "axis": {"title": "Intensity (counts)", "values": [0,10,20,30,40,50,60], "tickCount": 100, "labelExpr": "datum.value % 20 === 0 ? format(datum.value, 'd') : ''", "labelOverlap": false, "tickSize": {"condition": {"test": "datum.value % 20 !== 0", "value": 4}, "value": 8}, "labelPadding": 2, "titleX": -40, "titleBaseline": "alphabetic"}},
    "y2": {"datum": -1000}
   }},
  {"data": {"name": "labels"}, "transform": [{"filter": "datum.panel === 'a'"}],
   "mark": {"type": "text", "color": "#ffffff", "fontWeight": "bold", "fontSize": 18, "align": "center", "baseline": "middle"},
   "encoding": {"x": {"field": "E", "type": "quantitative", "scale": {"domain": [0, 6], "nice": false, "zero": false}}, "y": {"field": "I", "type": "quantitative", "scale": {"domain": [0, 60], "nice": false, "zero": false}}, "text": {"field": "text"}, "angle": {"field": "A", "type": "quantitative", "scale": null}}},
  {"data": {"name": "arrows"}, "transform": [{"filter": "datum.panel === 'a'"}],
   "mark": {"type": "text", "color": "#ffffff", "font": "DejaVu Sans", "fontSize": 25, "align": "center", "baseline": "middle"},
   "encoding": {"x": {"field": "E", "type": "quantitative", "scale": {"domain": [0, 6], "nice": false, "zero": false}}, "y": {"field": "I", "type": "quantitative", "scale": {"domain": [0, 60], "nice": false, "zero": false}}, "text": {"field": "text"}}},
  {"data": {"name": "conds"}, "transform": [{"filter": "datum.panel === 'a'"}],
   "mark": {"type": "text", "color": "#ffffff", "fontSize": 19, "align": "left", "baseline": "middle"},
   "encoding": {"x": {"field": "E", "type": "quantitative", "scale": {"domain": [0, 6], "nice": false, "zero": false}}, "y": {"field": "I", "type": "quantitative", "scale": {"domain": [0, 60], "nice": false, "zero": false}}, "text": {"field": "text"}}},
  {"data": {"name": "letters"}, "transform": [{"filter": "datum.panel === 'a'"}],
   "mark": {"type": "text", "color": "#000000", "fontSize": 21, "align": "left", "baseline": "alphabetic", "clip": false},
   "encoding": {"x": {"field": "E", "type": "quantitative", "scale": {"domain": [0, 6], "nice": false, "zero": false}}, "y": {"field": "I", "type": "quantitative", "scale": {"domain": [0, 60], "nice": false, "zero": false}}, "text": {"field": "text"}}}
 ]
},
{
 "width": 382, "height": 280,
 "layer": [
  {"data": {"name": "b"}, "mark": {"type": "area", "color": "#ffff00", "clip": true},
   "encoding": {
    "x": {"field": "E", "type": "quantitative", "scale": {"domain": [0, 6], "nice": false, "zero": false},
          "axis": {"title": "Energy (keV)", "values": [0,0.5,1,1.5,2,2.5,3,3.5,4,4.5,5,5.5,6], "tickCount": 100, "labelExpr": "datum.value % 1 === 0 ? format(datum.value, 'd') : ''", "labelOverlap": false, "tickSize": -5, "labelPadding": 12, "titlePadding": 4}},
    "y": {"field": "I", "type": "quantitative", "scale": {"domain": [14.9, 82.1], "nice": false, "zero": false},
          "axis": {"title": "Intensity (counts)", "values": [20,30,40,50,60,70,80], "tickCount": 100, "labelExpr": "datum.value % 20 === 0 ? format(datum.value, 'd') : ''", "labelOverlap": false, "tickSize": {"condition": {"test": "datum.value % 20 !== 0", "value": 4}, "value": 8}, "labelPadding": 2, "titleX": -40, "titleBaseline": "alphabetic"}},
    "y2": {"datum": -1000}
   }},
  {"data": {"name": "labels"}, "transform": [{"filter": "datum.panel === 'b'"}],
   "mark": {"type": "text", "color": "#ffffff", "fontWeight": "bold", "fontSize": 18, "align": "center", "baseline": "middle"},
   "encoding": {"x": {"field": "E", "type": "quantitative", "scale": {"domain": [0, 6], "nice": false, "zero": false}}, "y": {"field": "I", "type": "quantitative", "scale": {"domain": [14.9, 82.1], "nice": false, "zero": false}}, "text": {"field": "text"}, "angle": {"field": "A", "type": "quantitative", "scale": null}}},
  {"data": {"name": "arrows"}, "transform": [{"filter": "datum.panel === 'b'"}],
   "mark": {"type": "text", "color": "#ffffff", "font": "DejaVu Sans", "fontSize": 25, "align": "center", "baseline": "middle"},
   "encoding": {"x": {"field": "E", "type": "quantitative", "scale": {"domain": [0, 6], "nice": false, "zero": false}}, "y": {"field": "I", "type": "quantitative", "scale": {"domain": [14.9, 82.1], "nice": false, "zero": false}}, "text": {"field": "text"}}},
  {"data": {"name": "conds"}, "transform": [{"filter": "datum.panel === 'b'"}],
   "mark": {"type": "text", "color": "#ffffff", "fontSize": 19, "align": "left", "baseline": "middle"},
   "encoding": {"x": {"field": "E", "type": "quantitative", "scale": {"domain": [0, 6], "nice": false, "zero": false}}, "y": {"field": "I", "type": "quantitative", "scale": {"domain": [14.9, 82.1], "nice": false, "zero": false}}, "text": {"field": "text"}}},
  {"data": {"name": "letters"}, "transform": [{"filter": "datum.panel === 'b'"}],
   "mark": {"type": "text", "color": "#000000", "fontSize": 21, "align": "left", "baseline": "alphabetic", "clip": false},
   "encoding": {"x": {"field": "E", "type": "quantitative", "scale": {"domain": [0, 6], "nice": false, "zero": false}}, "y": {"field": "I", "type": "quantitative", "scale": {"domain": [14.9, 82.1], "nice": false, "zero": false}}, "text": {"field": "text"}}}
 ]
},
{
 "width": 382, "height": 280,
 "layer": [
  {"data": {"name": "c"}, "mark": {"type": "area", "color": "#ffff00", "clip": true},
   "encoding": {
    "x": {"field": "E", "type": "quantitative", "scale": {"domain": [0, 6], "nice": false, "zero": false},
          "axis": {"title": "Energy (keV)", "values": [0,0.5,1,1.5,2,2.5,3,3.5,4,4.5,5,5.5,6], "tickCount": 100, "labelExpr": "datum.value % 1 === 0 ? format(datum.value, 'd') : ''", "labelOverlap": false, "tickSize": -5, "labelPadding": 12, "titlePadding": 4}},
    "y": {"field": "I", "type": "quantitative", "scale": {"domain": [4.8, 104.8], "nice": false, "zero": false},
          "axis": {"title": "Intensity (counts)", "values": [10,20,30,40,50,60,70,80,90,100], "tickCount": 100, "labelExpr": "datum.value % 20 === 0 ? format(datum.value, 'd') : ''", "labelOverlap": false, "tickSize": {"condition": {"test": "datum.value % 20 !== 0", "value": 4}, "value": 8}, "labelPadding": 2, "titleX": -40, "titleBaseline": "alphabetic"}},
    "y2": {"datum": -1000}
   }},
  {"data": {"name": "labels"}, "transform": [{"filter": "datum.panel === 'c'"}],
   "mark": {"type": "text", "color": "#ffffff", "fontWeight": "bold", "fontSize": 18, "align": "center", "baseline": "middle"},
   "encoding": {"x": {"field": "E", "type": "quantitative", "scale": {"domain": [0, 6], "nice": false, "zero": false}}, "y": {"field": "I", "type": "quantitative", "scale": {"domain": [4.8, 104.8], "nice": false, "zero": false}}, "text": {"field": "text"}, "angle": {"field": "A", "type": "quantitative", "scale": null}}},
  {"data": {"name": "arrows"}, "transform": [{"filter": "datum.panel === 'c'"}],
   "mark": {"type": "text", "color": "#ffffff", "font": "DejaVu Sans", "fontSize": 25, "align": "center", "baseline": "middle"},
   "encoding": {"x": {"field": "E", "type": "quantitative", "scale": {"domain": [0, 6], "nice": false, "zero": false}}, "y": {"field": "I", "type": "quantitative", "scale": {"domain": [4.8, 104.8], "nice": false, "zero": false}}, "text": {"field": "text"}}},
  {"data": {"name": "conds"}, "transform": [{"filter": "datum.panel === 'c'"}],
   "mark": {"type": "text", "color": "#ffffff", "fontSize": 19, "align": "left", "baseline": "middle"},
   "encoding": {"x": {"field": "E", "type": "quantitative", "scale": {"domain": [0, 6], "nice": false, "zero": false}}, "y": {"field": "I", "type": "quantitative", "scale": {"domain": [4.8, 104.8], "nice": false, "zero": false}}, "text": {"field": "text"}}},
  {"data": {"name": "letters"}, "transform": [{"filter": "datum.panel === 'c'"}],
   "mark": {"type": "text", "color": "#000000", "fontSize": 21, "align": "left", "baseline": "alphabetic", "clip": false},
   "encoding": {"x": {"field": "E", "type": "quantitative", "scale": {"domain": [0, 6], "nice": false, "zero": false}}, "y": {"field": "I", "type": "quantitative", "scale": {"domain": [4.8, 104.8], "nice": false, "zero": false}}, "text": {"field": "text"}}}
 ]
},
{
 "width": 382, "height": 280,
 "layer": [
  {"data": {"name": "d"}, "mark": {"type": "area", "color": "#ffff00", "clip": true},
   "encoding": {
    "x": {"field": "E", "type": "quantitative", "scale": {"domain": [0, 6], "nice": false, "zero": false},
          "axis": {"title": "Energy (keV)", "values": [0,0.5,1,1.5,2,2.5,3,3.5,4,4.5,5,5.5,6], "tickCount": 100, "labelExpr": "datum.value % 1 === 0 ? format(datum.value, 'd') : ''", "labelOverlap": false, "tickSize": -5, "labelPadding": 12, "titlePadding": 4}},
    "y": {"field": "I", "type": "quantitative", "scale": {"domain": [-3, 57], "nice": false, "zero": false},
          "axis": {"title": "Intensity (counts)", "values": [0,5,10,15,20,25,30,35,40,45,50,55], "tickCount": 100, "labelExpr": "datum.value % 10 === 0 ? format(datum.value, 'd') : ''", "labelOverlap": false, "tickSize": {"condition": {"test": "datum.value % 10 !== 0", "value": 4}, "value": 8}, "labelPadding": 2, "titleX": -40, "titleBaseline": "alphabetic"}},
    "y2": {"datum": -1000}
   }},
  {"data": {"name": "labels"}, "transform": [{"filter": "datum.panel === 'd'"}],
   "mark": {"type": "text", "color": "#ffffff", "fontWeight": "bold", "fontSize": 18, "align": "center", "baseline": "middle"},
   "encoding": {"x": {"field": "E", "type": "quantitative", "scale": {"domain": [0, 6], "nice": false, "zero": false}}, "y": {"field": "I", "type": "quantitative", "scale": {"domain": [-3, 57], "nice": false, "zero": false}}, "text": {"field": "text"}, "angle": {"field": "A", "type": "quantitative", "scale": null}}},
  {"data": {"name": "arrows"}, "transform": [{"filter": "datum.panel === 'd'"}],
   "mark": {"type": "text", "color": "#ffffff", "font": "DejaVu Sans", "fontSize": 25, "align": "center", "baseline": "middle"},
   "encoding": {"x": {"field": "E", "type": "quantitative", "scale": {"domain": [0, 6], "nice": false, "zero": false}}, "y": {"field": "I", "type": "quantitative", "scale": {"domain": [-3, 57], "nice": false, "zero": false}}, "text": {"field": "text"}}},
  {"data": {"name": "conds"}, "transform": [{"filter": "datum.panel === 'd'"}],
   "mark": {"type": "text", "color": "#ffffff", "fontSize": 19, "align": "left", "baseline": "middle"},
   "encoding": {"x": {"field": "E", "type": "quantitative", "scale": {"domain": [0, 6], "nice": false, "zero": false}}, "y": {"field": "I", "type": "quantitative", "scale": {"domain": [-3, 57], "nice": false, "zero": false}}, "text": {"field": "text"}}},
  {"data": {"name": "letters"}, "transform": [{"filter": "datum.panel === 'd'"}],
   "mark": {"type": "text", "color": "#000000", "fontSize": 21, "align": "left", "baseline": "alphabetic", "clip": false},
   "encoding": {"x": {"field": "E", "type": "quantitative", "scale": {"domain": [0, 6], "nice": false, "zero": false}}, "y": {"field": "I", "type": "quantitative", "scale": {"domain": [-3, 57], "nice": false, "zero": false}}, "text": {"field": "text"}}}
 ]
}
]
}
